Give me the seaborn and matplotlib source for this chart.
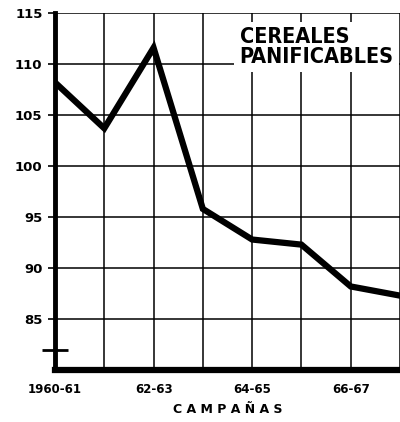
import matplotlib
matplotlib.use("Agg")
import matplotlib.pyplot as plt
import seaborn as sns
import pandas as pd

campanas = ["1960-61", "61-62", "62-63", "63-64", "64-65", "65-66", "66-67", "67-68"]
indice = [108.2, 103.7, 111.6, 95.8, 92.8, 92.3, 88.2, 87.3]
tick_labels = ["1960-61", "62-63", "64-65", "66-67"]
tick_pos = [0, 2, 4, 6]
y_ticks = [85, 90, 95, 100, 105, 110, 115]

df = pd.DataFrame({"x": range(len(campanas)), "indice": indice})

sns.set_style("white")
plt.rcParams["font.family"] = ["DejaVu Sans"]
plt.rcParams["text.color"] = "black"
plt.rcParams["xtick.color"] = "black"
plt.rcParams["ytick.color"] = "black"
plt.rcParams["axes.labelcolor"] = "black"

fig = plt.figure(figsize=(4.0, 4.22), dpi=100)
ax = fig.add_axes([0.1375, 0.123, 0.8625, 0.846])

sns.lineplot(data=df, x="x", y="indice", ax=ax, color="black", linewidth=4.5,
             solid_joinstyle="miter", zorder=3)

ax.set_xlim(0, 6.92)
ax.set_ylim(80, 115)
ax.set_xticks(range(8), minor=True)
ax.set_xticks(tick_pos)
ax.set_xticklabels(tick_labels, fontsize=8.5, fontweight="bold")
ax.set_yticks(y_ticks)
ax.set_yticklabels([str(v) for v in y_ticks], fontsize=9.5, fontweight="bold")
ax.set_yticks([82], minor=True)

ax.grid(True, which="both", axis="x", color="black", linewidth=1.1)
ax.grid(True, which="major", axis="y", color="black", linewidth=1.1)
ax.yaxis.grid(False, which="minor")

for s in ["top", "right"]:
    ax.spines[s].set_visible(False)
ax.spines["left"].set_linewidth(3.5)
ax.spines["bottom"].set_linewidth(4.5)
ax.spines["left"].set_color("black")
ax.spines["bottom"].set_color("black")

ax.tick_params(axis="y", which="major", left=True, direction="out", length=5, width=1.2,
               color="black", pad=4)
ax.tick_params(axis="y", which="minor", left=True, direction="inout", length=19, width=2,
               color="black")
ax.tick_params(axis="x", which="both", bottom=False, length=0, pad=9)

ax.set_xlabel("C A M P A Ñ A S", fontsize=9, fontweight="bold", labelpad=5)
ax.set_ylabel("")

ax.text(0.535, 0.96, "CEREALES\nPANIFICABLES", transform=ax.transAxes,
        ha="left", va="top", fontsize=15.5, linespacing=0.95,
        family="DejaVu Sans", fontstretch="condensed", fontweight="bold",
        bbox=dict(facecolor="white", edgecolor="none", pad=4), zorder=5)

fig.savefig("out.png", dpi=100)
